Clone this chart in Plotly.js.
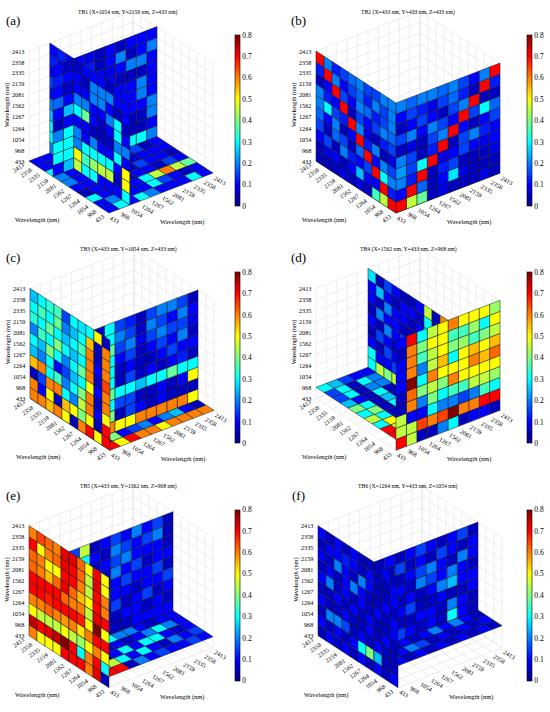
<!DOCTYPE html>
<html><head><meta charset="utf-8">
<script src="https://cdn.plot.ly/plotly-3.0.1.min.js"></script>
<style>html,body{margin:0;padding:0;background:#fff}#chart{width:550px;height:712px}</style>
</head><body><div id="chart"></div>
<script>
// ---------------- data ----------------
const wavelengths = ['433','968','1054','1264','1267','1562','2081','2159','2335','2358','2413'];
const panelTitles = [
  'TB1 (X=1054 nm, Y=2159 nm, Z=433 nm)',
  'TB2 (X=433 nm, Y=433 nm, Z=433 nm)',
  'TB3 (X=433 nm, Y=1054 nm, Z=433 nm)',
  'TB4 (X=1562 nm, Y=433 nm, Z=968 nm)',
  'TB5 (X=433 nm, Y=1562 nm, Z=968 nm)',
  'TB6 (X=1264 nm, Y=433 nm, Z=1054 nm)'
];
const panelLetters = ['(a)','(b)','(c)','(d)','(e)','(f)'];
const axisTitle = 'Wavelength (nm)';
const colorTicks = [0,0.1,0.2,0.3,0.4,0.5,0.6,0.7,0.8];
// slice wavelengths: on the right-hand (receding right) axis, the left-hand axis, the vertical axis
const sliceRightAxis = ['1054','433','433','1562','433','433'];
const sliceLeftAxis  = ['2159','433','1054','433','1562','1264'];
const sliceVertical  = ['433','433','433','968','968','1054'];

// wall along the left axis: rows top->bottom, columns back(2413)->front(433)
// wall along the right axis: rows top->bottom, columns front(433)->back(2413)
// floor: rows left-axis front->back, columns right-axis front->back
const tb1LeftWall = [
 [.1,.12,.1,.05,.1,.1,.1,.05,.1,.1],
 [.12,.1,.1,.1,.05,.2,.2,.2,.1,.1],
 [.1,.15,.1,.1,.1,.2,.2,.1,.05,.1],
 [.15,.1,.1,.2,.2,.1,.1,.2,.3,.05],
 [.1,.1,.15,.3,.38,.1,.05,.1,.3,.1],
 [.2,.1,.1,.1,.1,.05,.05,.05,.2,.2],
 [.25,.3,.1,.2,.1,.2,.1,.1,.3,.1],
 [.3,.3,.15,.2,.3,.3,.3,.3,.1,.5],
 [.3,.3,.2,.5,.35,.42,.45,.45,.05,.5],
 [.2,.28,.15,.45,.3,.3,.1,.1,.1,.3]];
const tb1RightWall = [
 [.1,.05,.1,.08,.05,.1,.05,.1,.1,.1],
 [.12,.1,.1,.12,.05,.1,.2,.05,.1,.2],
 [.1,.05,.05,.1,.1,.08,.1,.2,.2,.1],
 [.18,.1,.1,.05,.15,.1,.05,.05,.05,.1],
 [.1,.25,.1,.15,.05,.12,.1,.1,.2,.1],
 [.05,.1,.05,.1,.1,.05,.15,.1,.2,.1],
 [.2,.3,.1,.12,.08,.1,.12,.1,.1,.2],
 [.3,.3,.15,.1,.1,.05,.08,.05,.05,.2],
 [.3,.3,.1,.05,.1,.1,.1,.05,.05,.1],
 [.1,.25,.2,.1,.1,.15,.2,.3,.3,.2]];
const tb1Floor = [
 [.1,.3,.1,.3,.2,.1,.1,.1,.3,.1],
 [.1,.2,.1,.1,.1,.3,.15,.1,.05,.1],
 [.3,.1,.1,.1,.1,.3,.45,.6,.45,.38],
 [.05,.1,.1,.15,.05,.1,.1,.05,.15,.1],
 [.1,.1,.05,.1,.1,.05,.15,.1,.1,.05],
 [.2,.1,.1,.05,.1,.1,.05,.1,.1,.1],
 [.2,.1,.1,.1,.15,.1,.1,.15,.05,.1],
 [.3,.3,.1,.1,.1,.1,.1,.1,.1,.1],
 [.1,.1,.1,.1,.1,.1,.1,.1,.1,.1],
 [.1,.1,.1,.1,.1,.1,.1,.1,.1,.1]];

const tb2LeftWall = [
 [.7,.2,.12,.15,.18,.2,.15,.15,.2,.2],
 [.12,.7,.2,.1,.15,.18,.12,.2,.15,.2],
 [.05,.1,.7,.15,.1,.2,.18,.12,.15,.2],
 [.2,.12,.1,.7,.05,.15,.1,.15,.2,.18],
 [.2,.3,.15,.12,.7,.2,.08,.05,.12,.15],
 [.18,.1,.2,.05,.1,.7,.12,.2,.05,.08],
 [.15,.05,.18,.15,.05,.18,.7,.1,.2,.15],
 [.1,.15,.05,.2,.12,.1,.15,.7,.3,.2],
 [.05,.08,.1,.05,.1,.25,.1,.1,.7,.12],
 [.05,.05,.05,.08,.05,.08,.05,.35,.45,.7]];
const tb2RightWall = [
 [.2,.18,.2,.2,.18,.2,.15,.1,.2,.7],
 [.1,.15,.12,.08,.15,.18,.12,.05,.7,.12],
 [.05,.1,.15,.1,.05,.15,.2,.7,.05,.05],
 [.15,.2,.1,.2,.15,.1,.7,.15,.3,.18],
 [.05,.08,.05,.15,.2,.7,.1,.05,.1,.15],
 [.2,.15,.05,.12,.7,.05,.15,.2,.12,.1],
 [.22,.15,.3,.7,.08,.1,.15,.1,.08,.1],
 [.2,.12,.7,.05,.12,.15,.05,.05,.05,.08],
 [.1,.7,.18,.05,.1,.28,.08,.05,.05,.05],
 [.7,.45,.38,.05,.08,.05,.05,.05,.08,.05]];
const tb2Floor = [
 [.7,.45,.38,.05,.08,.05,.05,.05,.08,.05],
 [.45,.7,.1,.1,.1,.1,.1,.1,.1,.1],
 [.35,.1,.7,.1,.1,.1,.1,.1,.1,.1],
 [.1,.1,.1,.7,.1,.1,.1,.1,.1,.1],
 [.1,.1,.1,.1,.7,.1,.1,.1,.1,.1],
 [.1,.1,.1,.1,.1,.7,.1,.1,.1,.1],
 [.1,.1,.1,.1,.1,.1,.7,.1,.1,.1],
 [.1,.1,.1,.1,.1,.1,.1,.7,.1,.1],
 [.1,.1,.1,.1,.1,.1,.1,.1,.7,.1],
 [.1,.1,.1,.1,.1,.1,.1,.1,.1,.7]];

const tb3LeftWall = [
 [.25,.3,.33,.35,.15,.3,.28,.3,.5,.05],
 [.3,.35,.3,.38,.2,.25,.3,.55,.05,.6],
 [.33,.3,.38,.3,.25,.3,.35,.6,.05,.6],
 [.2,.35,.3,.4,.3,.25,.3,.6,.1,.6],
 [.3,.25,.4,.3,.2,.3,.38,.6,.05,.65],
 [.25,.2,.3,.1,.15,.25,.3,.5,.1,.6],
 [.55,.6,.3,.35,.2,.3,.4,.6,.05,.6],
 [.05,.15,.6,.6,.3,.2,.45,.6,.1,.5],
 [.6,.1,.5,.05,.55,.5,.4,.5,.05,.7],
 [.6,.6,.55,.6,.5,.05,.6,.7,.5,.7]];
const tb3RightWall = [
 [.05,.3,.15,.12,.05,.15,.2,.2,.15,.05],
 [.1,.3,.2,.15,.05,.2,.15,.1,.2,.1],
 [.1,.38,.15,.2,.08,.15,.2,.15,.15,.08],
 [.05,.3,.1,.15,.05,.1,.15,.1,.2,.05],
 [.1,.3,.05,.1,.05,.05,.1,.15,.1,.1],
 [.05,.3,.05,.15,.05,.1,.05,.1,.12,.05],
 [.1,.38,.3,.3,.25,.3,.3,.38,.3,.3],
 [.15,.3,.15,.15,.05,.05,.1,.05,.1,.5],
 [.6,.4,.05,.15,.1,.05,.1,.05,.05,.05],
 [.7,.6,.5,.5,.6,.6,.6,.6,.6,.5]];
const tb3Floor = [
 [.7,.5,.7,.6,.6,.5,.6,.6,.6,.6],
 [.05,.4,.1,.15,.2,.1,.2,.25,.1,.05],
 [.1,.1,.1,.1,.1,.1,.1,.1,.1,.1],
 [.1,.1,.1,.1,.1,.1,.1,.1,.1,.1],
 [.1,.1,.1,.1,.1,.1,.1,.1,.1,.1],
 [.1,.1,.1,.1,.1,.1,.1,.1,.1,.1],
 [.1,.1,.1,.1,.1,.1,.1,.1,.1,.1],
 [.1,.1,.1,.1,.1,.1,.1,.1,.1,.1],
 [.1,.1,.1,.1,.1,.1,.1,.1,.1,.1],
 [.1,.1,.1,.1,.1,.1,.1,.1,.1,.1]];

const tb4LeftWall = [
 [.28,.05,.15,.1,.05,.05,.1,.45,.05,.6],
 [.1,.25,.1,.05,.1,.1,.05,.3,.05,.6],
 [.1,.05,.2,.1,.1,.05,.1,.3,.1,.5],
 [.05,.2,.1,.1,.05,.05,.1,.25,.05,.5],
 [.1,.05,.2,.1,.15,.05,.1,.3,.1,.5],
 [.05,.15,.1,.05,.1,.05,.05,.2,.1,.5],
 [.1,.05,.15,.1,.05,.1,.05,.2,.05,.5],
 [.3,.1,.1,.15,.1,.05,.1,.15,.1,.5],
 [.3,.45,.4,.45,.2,.1,.1,.1,.1,.5],
 [.2,.3,.3,.2,.1,.1,.1,.1,.1,.5]];
const tb4RightWall = [
 [.1,.7,.3,.45,.5,.6,.5,.5,.5,.42],
 [.05,.6,.4,.5,.5,.35,.35,.42,.3,.5],
 [.1,.6,.35,.45,.5,.4,.42,.35,.4,.45],
 [.1,.6,.2,.45,.55,.3,.5,.55,.5,.55],
 [.1,.8,.3,.6,.5,.5,.5,.6,.55,.62],
 [.05,.62,.4,.45,.4,.6,.5,.5,.5,.5],
 [.05,.6,.2,.4,.3,.35,.35,.45,.45,.42],
 [.45,.1,.1,.3,.2,.2,.15,.2,.35,.3],
 [.45,.45,.65,.6,.65,.8,.6,.6,.7,.7],
 [.7,.45,.05,.05,.2,.3,.05,.1,.1,.05]];
const tb4Floor = [
 [.7,.1,.1,.1,.1,.1,.1,.1,.1,.1],
 [.7,.45,.1,.1,.1,.1,.1,.1,.1,.1],
 [.3,.5,.1,.1,.1,.1,.1,.1,.1,.1],
 [.45,.3,.05,.2,.1,.1,.1,.1,.1,.1],
 [.3,.4,.05,.3,.1,.1,.1,.1,.1,.1],
 [.4,.3,.05,.25,.05,.1,.1,.1,.1,.1],
 [.25,.1,.05,.3,.05,.1,.1,.1,.1,.1],
 [.15,.3,.05,.2,.2,.1,.1,.1,.1,.1],
 [.15,.3,.05,.3,.2,.1,.1,.1,.1,.1],
 [.3,.25,.15,.1,.1,.1,.1,.1,.1,.1]];

const tb5LeftWall = [
 [.6,.65,.62,.6,.72,.72,.62,.5,.7,.5],
 [.7,.5,.6,.62,.72,.7,.62,.45,.72,.5],
 [.62,.6,.5,.5,.7,.7,.6,.45,.7,.6],
 [.62,.6,.55,.62,.72,.62,.55,.5,.7,.6],
 [.7,.7,.7,.7,.62,.6,.6,.45,.72,.7],
 [.7,.7,.68,.7,.7,.7,.68,.5,.8,.5],
 [.6,.6,.62,.6,.58,.6,.52,.6,.7,.7],
 [.5,.45,.45,.45,.5,.45,.42,.5,.6,.5],
 [.75,.7,.72,.75,.8,.7,.3,.6,.7,.3],
 [.6,.5,.5,.5,.7,.7,.7,.6,.72,.05]];
const tb5RightWall = [
 [.15,.45,.05,.1,.15,.1,.2,.1,.15,.05],
 [.2,.3,.1,.05,.2,.15,.1,.15,.2,.05],
 [.1,.1,.05,.1,.15,.2,.1,.1,.1,.05],
 [.15,.1,.15,.05,.2,.1,.15,.05,.1,.1],
 [.1,.15,.1,.05,.1,.15,.1,.1,.15,.05],
 [.1,.1,.05,.15,.1,.1,.05,.1,.1,.15],
 [.15,.05,.1,.1,.15,.05,.1,.15,.05,.1],
 [.1,.1,.15,.1,.05,.1,.1,.05,.1,.05],
 [.1,.15,.42,.1,.05,.05,.1,.1,.1,.1],
 [.2,.3,.2,.3,.3,.3,.1,.1,.1,.1]];
const tb5Floor = [
 [.7,.7,.05,.2,.1,.15,.1,.1,.15,.1],
 [.5,.45,.3,.1,.3,.1,.05,.2,.1,.15],
 [.3,.05,.1,.3,.1,.3,.3,.1,.05,.1],
 [.2,.3,.05,.1,.05,.1,.2,.3,.2,.1],
 [.3,.1,.2,.3,.2,.2,.1,.05,.1,.1],
 [.1,.1,.1,.1,.1,.1,.1,.1,.1,.1],
 [.1,.1,.1,.1,.1,.1,.1,.1,.1,.1],
 [.1,.1,.1,.1,.1,.1,.1,.1,.1,.1],
 [.1,.1,.1,.1,.1,.1,.1,.1,.1,.1],
 [.1,.1,.1,.1,.1,.1,.1,.1,.1,.1]];

const tb6LeftWall = [
 [.1,.05,.1,.05,.1,.05,.05,.05,.1,.05],
 [.05,.1,.1,.12,.1,.05,.1,.05,.05,.1],
 [.1,.05,.2,.1,.05,.2,.1,.05,.05,.1],
 [.05,.1,.05,.1,.2,.1,.05,.05,.1,.05],
 [.1,.2,.05,.1,.05,.1,.05,.1,.05,.1],
 [.05,.05,.1,.05,.1,.05,.1,.05,.05,.1],
 [.1,.05,.05,.1,.05,.05,.1,.05,.1,.05],
 [.05,.2,.2,.15,.05,.1,.05,.1,.05,.05],
 [.1,.05,.1,.05,.1,.3,.4,.25,.05,.05],
 [.05,.1,.05,.1,.05,.1,.05,.1,.05,.1]];
const tb6RightWall = [
 [.05,.1,.05,.1,.15,.1,.05,.1,.15,.05],
 [.1,.05,.15,.05,.1,.05,.15,.1,.05,.1],
 [.05,.1,.05,.1,.15,.2,.1,.05,.2,.1],
 [.1,.15,.1,.05,.2,.15,.1,.2,.1,.05],
 [.05,.1,.05,.1,.05,.1,.2,.25,.1,.1],
 [.1,.05,.1,.15,.05,.05,.1,.05,.05,.1],
 [.05,.1,.05,.05,.1,.1,.05,.2,.1,.05],
 [.1,.05,.15,.1,.05,.1,.05,.3,.1,.05],
 [.1,.1,.1,.1,.1,.1,.1,.1,.1,.1],
 [.1,.1,.1,.1,.1,.1,.1,.1,.1,.1]];
const tb6Floor = [
 [.1,.05,.1,.05,.1,.05,.1,.05,.1,.05],
 [.2,.1,.2,.15,.05,.1,.05,.1,.05,.1],
 [.1,.05,.1,.05,.1,.2,.1,.2,.1,.05],
 [.1,.1,.1,.1,.1,.1,.1,.1,.1,.1],
 [.1,.1,.1,.1,.1,.1,.1,.1,.1,.1],
 [.1,.1,.1,.1,.1,.1,.1,.1,.1,.1],
 [.1,.1,.1,.1,.1,.1,.1,.1,.1,.1],
 [.1,.1,.1,.1,.1,.1,.1,.1,.1,.1],
 [.1,.1,.1,.1,.1,.1,.1,.1,.1,.1],
 [.1,.1,.1,.1,.1,.1,.1,.1,.1,.1]];

const leftWalls  = [tb1LeftWall, tb2LeftWall, tb3LeftWall, tb4LeftWall, tb5LeftWall, tb6LeftWall];
const rightWalls = [tb1RightWall, tb2RightWall, tb3RightWall, tb4RightWall, tb5RightWall, tb6RightWall];
const floors     = [tb1Floor, tb2Floor, tb3Floor, tb4Floor, tb5Floor, tb6Floor];

// ---------------- view (orthographic, az -37.5 deg, el 30 deg) ----------------
const FONT = 'Liberation Serif, Times New Roman, serif';
const W = 550, H = 712, PW = 275, PH = H/3;
const STEP_R = [10.4, -4.0];   // screen step per cell along the right-receding axis
const STEP_L = [-8.0, -5.2];   // along the left-receding axis
const STEP_Z = [0, -11.0];     // along the vertical axis
const ORIGIN_U = [109, 121, 110, 121, 109, 123];  // front-bottom corner, per panel
const ORIGIN_V = 213;
const SIN_T = Math.sin(37.5*Math.PI/180), COS_T = Math.cos(37.5*Math.PI/180);

const jetStops = [[0,'rgb(0,0,128)'],[0.125,'rgb(0,0,255)'],[0.375,'rgb(0,255,255)'],
                  [0.625,'rgb(255,255,0)'],[0.875,'rgb(255,0,0)'],[1,'rgb(128,0,0)']];
function jetColor(v) {
  const t = Math.max(0, Math.min(1, v/0.8));
  const c = s => Math.round(255*Math.max(0, Math.min(1, 1.5 - Math.abs(4*t - s))));
  return 'rgb(' + c(3) + ',' + c(2) + ',' + c(1) + ')';
}
const pos = w => wavelengths.indexOf(w) + 1;

const traces = [];
const layout = {width:W, height:H, margin:{l:0,r:0,t:0,b:0}, paper_bgcolor:'#fff',
  plot_bgcolor:'rgba(0,0,0,0)', showlegend:false, font:{family:FONT, color:'#000'},
  annotations:[], shapes:[]};

for (let p = 0; p < 6; p++) {
  const col = p % 2, row = Math.floor(p / 2);
  const ox = col*PW, oy = row*PH;
  const n = p === 0 ? '' : String(p+1);
  const xa = 'x' + n, ya = 'y' + n;
  layout['xaxis' + n] = {domain:[ox/W, (ox+PW)/W], range:[0, PW], visible:false, fixedrange:true, anchor:ya};
  layout['yaxis' + n] = {domain:[1-(oy+PH)/H, 1-oy/H], range:[PH, 0], visible:false, fixedrange:true, anchor:xa};
  const U0 = ORIGIN_U[p];
  const proj = (x, y, z) => [U0 + STEP_R[0]*(x-1) + STEP_L[0]*(y-1) + STEP_Z[0]*(z-1),
                             ORIGIN_V + STEP_R[1]*(x-1) + STEP_L[1]*(y-1) + STEP_Z[1]*(z-1)];
  const depth = (x, y, z) => (SIN_T*x + COS_T*y)*0.866 - 0.97*z*0.5;

  // back-wall grid
  const gx = [], gy = [];
  const seg = (a, b) => { const A = proj(...a), B = proj(...b); gx.push(A[0], B[0], null); gy.push(A[1], B[1], null); };
  for (let t = 1; t <= 11; t++) {
    seg([11,t,1],[11,t,11]); seg([11,1,t],[11,11,t]);
    seg([t,11,1],[t,11,11]); seg([1,11,t],[11,11,t]);
    seg([t,1,1],[t,11,1]);   seg([1,t,1],[11,t,1]);
  }
  traces.push({type:'scatter', mode:'lines', x:gx, y:gy, xaxis:xa, yaxis:ya, hoverinfo:'skip',
    line:{color:'#e0e0e0', width:0.6}});

  // cells
  const cells = [];
  const addCell = (corners, v) => {
    const c = corners.reduce((s, q) => [s[0]+q[0]/4, s[1]+q[1]/4, s[2]+q[2]/4], [0,0,0]);
    cells.push({pts:corners.map(q => proj(...q)), d:depth(...c), v});
  };
  const xs = pos(sliceRightAxis[p]), ys = pos(sliceLeftAxis[p]), zs = pos(sliceVertical[p]);
  const Lw = leftWalls[p], Rw = rightWalls[p], Fl = floors[p];
  for (let r = 0; r < 10; r++) for (let c = 0; c < 10; c++) {
    const k = 9 - r;                    // vertical cell
    const j = 9 - c;                    // left-axis cell (columns run back -> front)
    addCell([[xs,1+j,1+k],[xs,2+j,1+k],[xs,2+j,2+k],[xs,1+j,2+k]], Lw[r][c]);
    addCell([[1+c,ys,1+k],[2+c,ys,1+k],[2+c,ys,2+k],[1+c,ys,2+k]], Rw[r][c]);
    addCell([[1+c,1+r,zs],[2+c,1+r,zs],[2+c,2+r,zs],[1+c,2+r,zs]], Fl[r][c]);
  }
  cells.sort((a, b) => b.d - a.d);
  cells.forEach(cl => {
    const path = 'M' + cl.pts.map(q => q[0].toFixed(2) + ',' + q[1].toFixed(2)).join('L') + 'Z';
    layout.shapes.push({type:'path', xref:xa, yref:ya, path, fillcolor:jetColor(cl.v),
      line:{color:'#1c1c1c', width:0.5}, layer:'above'});
  });

  // colour bar
  traces.push({type:'scatter', mode:'markers', x:[-100], y:[-100], xaxis:xa, yaxis:ya, hoverinfo:'skip',
    marker:{size:1, color:[0], cmin:0, cmax:0.8, colorscale:jetStops, showscale:true,
      colorbar:{x:(ox + (col ? 252 : 235))/W, xanchor:'left', y:1-(oy+120.5)/H, yanchor:'middle',
        len:171/H, lenmode:'fraction', thickness:5, xpad:0, ypad:0,
        tickvals:colorTicks, ticktext:colorTicks.map(String), ticks:'',
        outlinewidth:0.6, outlinecolor:'#000', tickfont:{family:FONT, size:7.5, color:'#000'}}}});

  // tick labels
  const ann = layout.annotations;
  const toPaper = (u, v) => [(ox+u)/W, 1-(oy+v)/H];
  const tfont = {family:FONT, size:6.2, color:'#000'};
  wavelengths.forEach((w, i) => {
    const t = i + 1;
    const L = 3.1*w.length;
    // vertical axis on the left-back edge
    let q = proj(1, 11, t), tp = toPaper(q[0]-3, q[1]);
    ann.push({text:w, x:tp[0], y:tp[1], xref:'paper', yref:'paper', xanchor:'right', yanchor:'middle',
      showarrow:false, font:tfont});
    // left-receding axis along the front-left bottom edge
    q = proj(1, t, 1);
    tp = toPaper(q[0] - 6 - 0.41*L, q[1] + 3 + 0.29*L);
    ann.push({text:w, x:tp[0], y:tp[1], xref:'paper', yref:'paper', xanchor:'center', yanchor:'middle',
      textangle:-35, showarrow:false, font:tfont});
    // right-receding axis along the front-right bottom edge
    q = proj(t, 1, 1);
    tp = toPaper(q[0] + 2 + 0.43*L, q[1] + 4 + 0.25*L);
    ann.push({text:w, x:tp[0], y:tp[1], xref:'paper', yref:'paper', xanchor:'center', yanchor:'middle',
      textangle:30, showarrow:false, font:tfont});
  });

  // titles
  const base = {xref:'paper', yref:'paper', showarrow:false, xanchor:'center', yanchor:'middle'};
  const tTitle = toPaper(col ? 133 : 128, 12);
  ann.push(Object.assign({}, base, {text:panelTitles[p], x:tTitle[0], y:tTitle[1], font:{family:FONT, size:5.7}}));
  const tLetter = toPaper(col ? 24 : 13, 11);
  ann.push(Object.assign({}, base, {text:panelLetters[p], x:tLetter[0], y:tLetter[1], yanchor:'top',
    font:{family:FONT, size:13}}));
  const tLeft = toPaper(U0 - 72, 220);
  ann.push(Object.assign({}, base, {text:axisTitle, x:tLeft[0], y:tLeft[1], font:{family:FONT, size:6.4}}));
  const tRight = toPaper(U0 + 73, 222);
  ann.push(Object.assign({}, base, {text:axisTitle, x:tRight[0], y:tRight[1], font:{family:FONT, size:6.4}}));
  const tVert = toPaper(U0 - 102, 105);
  ann.push(Object.assign({}, base, {text:axisTitle, x:tVert[0], y:tVert[1], textangle:-90, font:{family:FONT, size:6.4}}));
}

Plotly.newPlot('chart', traces, layout, {staticPlot:true, displayModeBar:false});
</script></body></html>
